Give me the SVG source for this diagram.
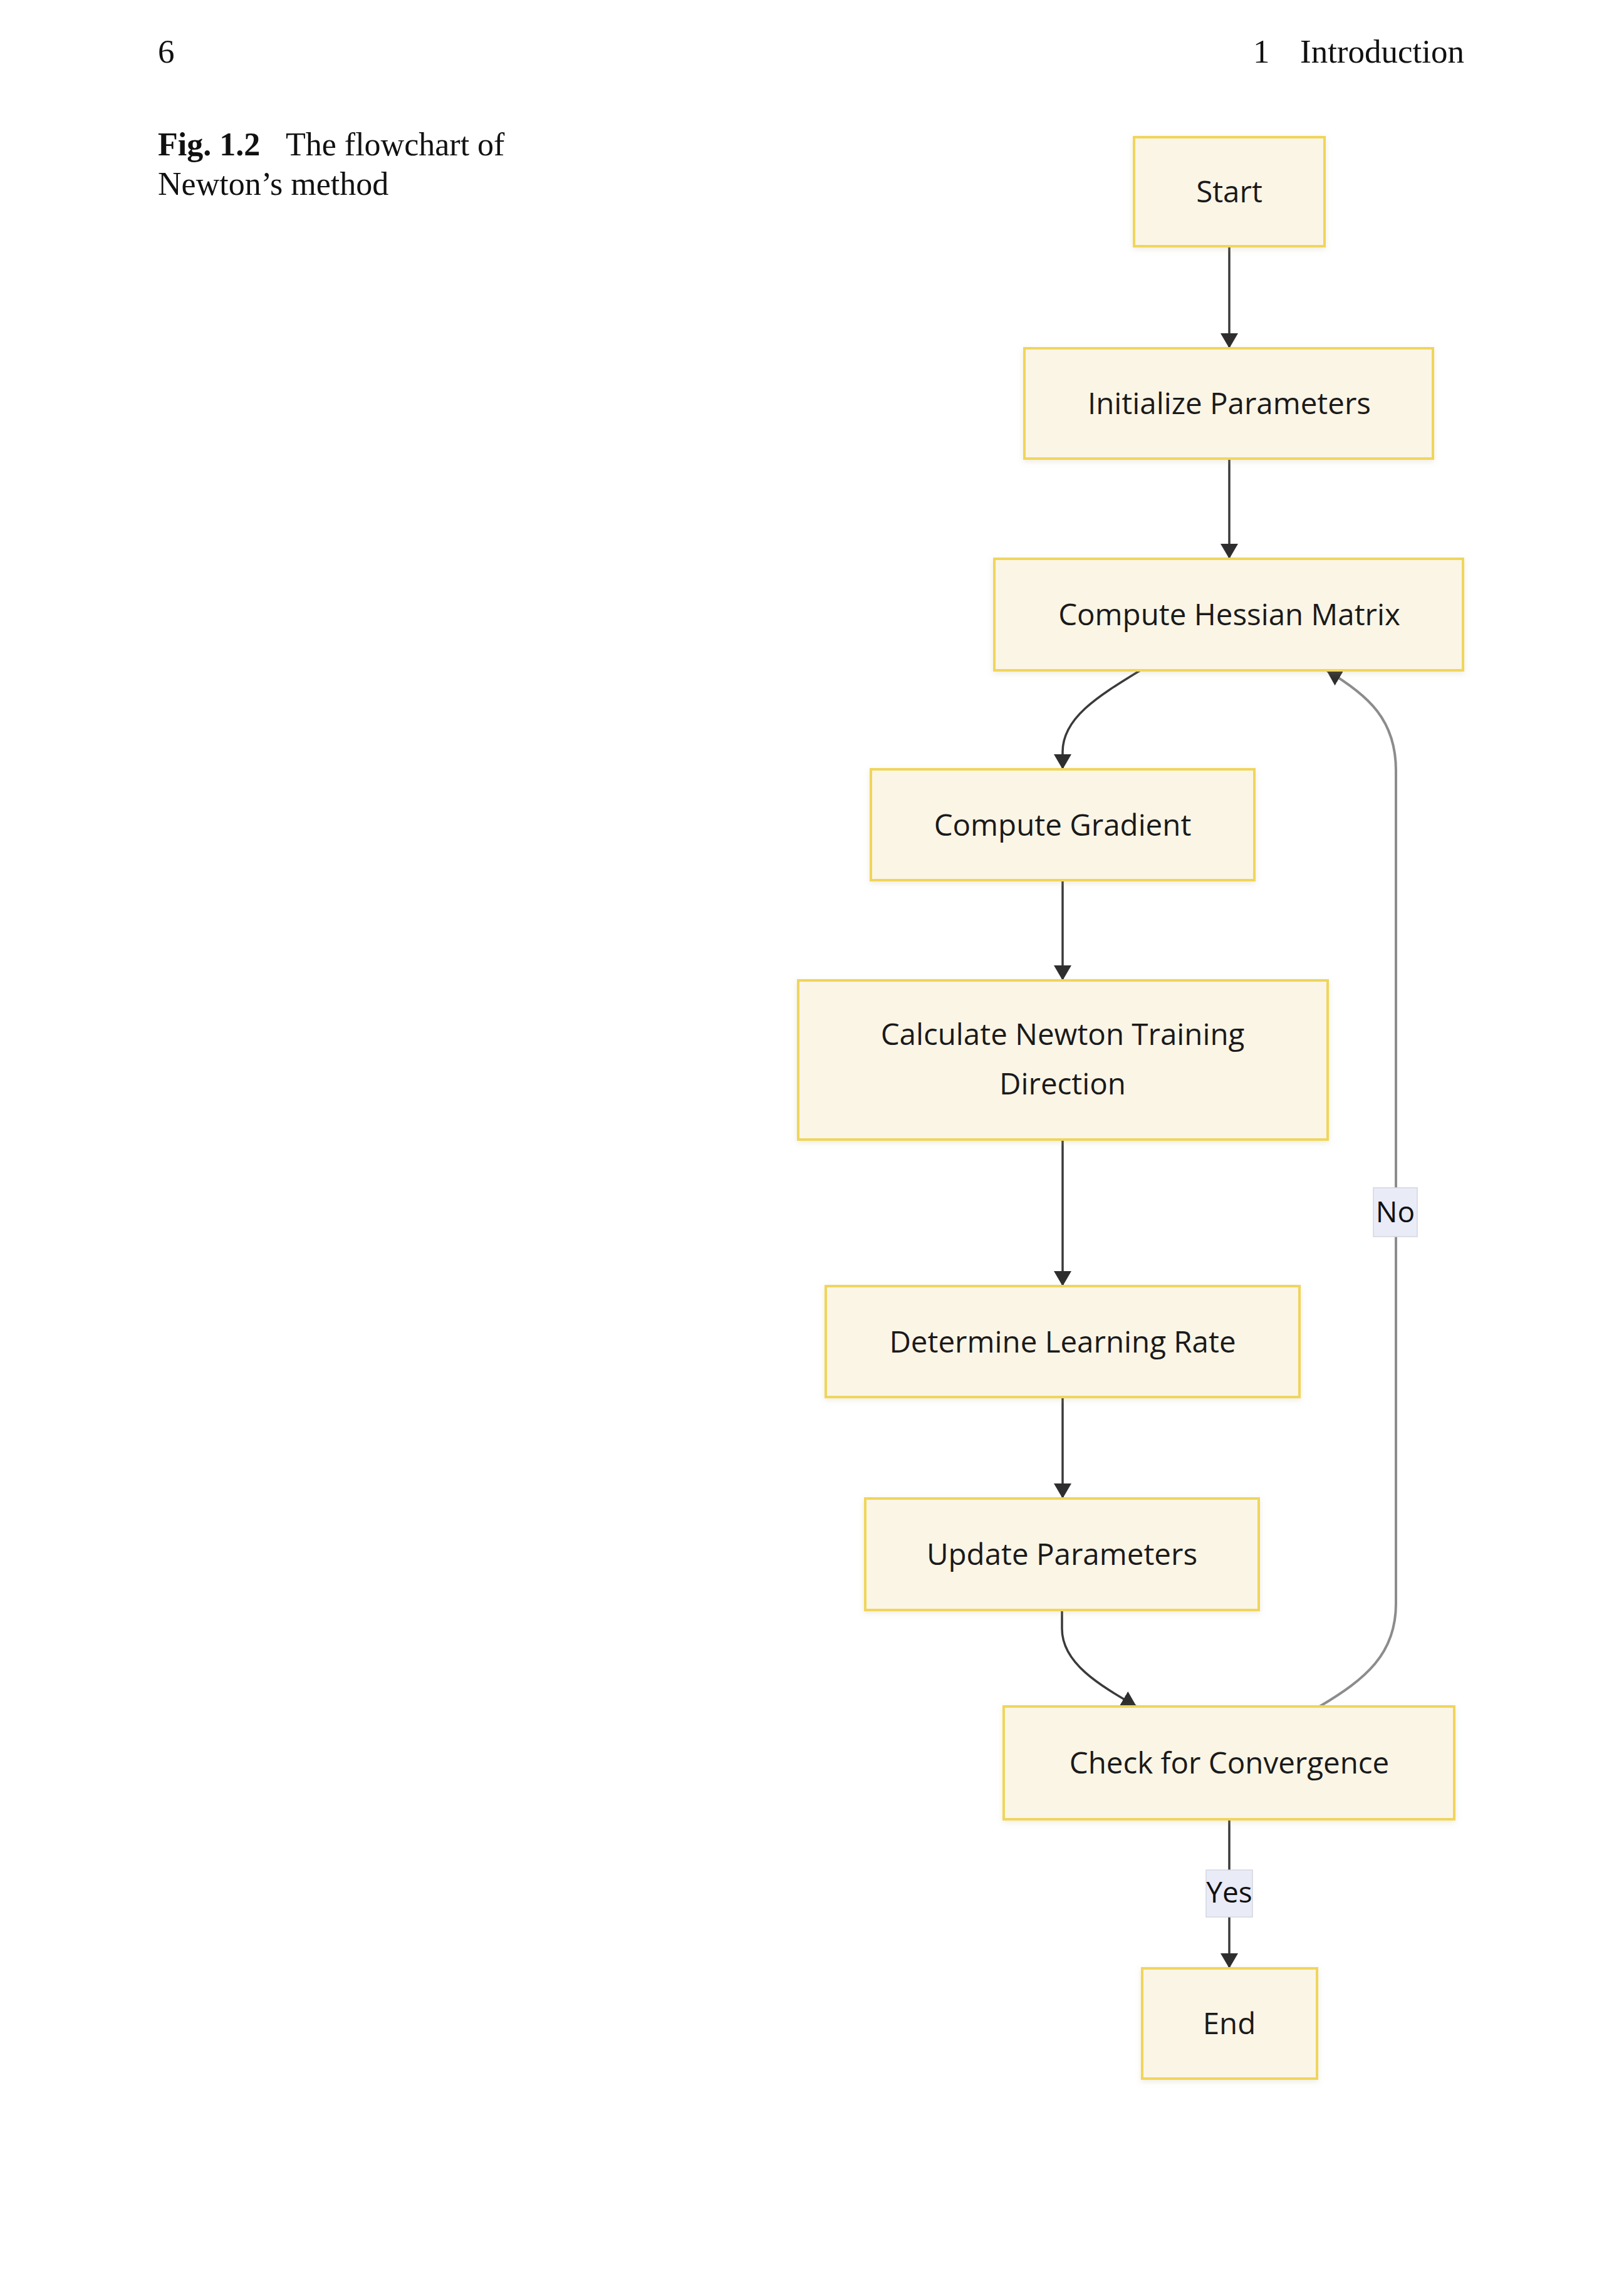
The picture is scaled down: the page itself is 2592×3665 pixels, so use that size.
<svg xmlns="http://www.w3.org/2000/svg" width="2592" height="3665" viewBox="0 0 2592 3665">
<style>
  .hdr { font-family: "Liberation Serif", "Times New Roman", serif; font-size: 53px; fill: #111; }
  .cap { font-family: "Liberation Serif", "Times New Roman", serif; font-size: 52px; fill: #111; }
  .node rect { fill: #fbf5e6; stroke: #f0d55a; stroke-width: 4; }
  .node text { font-family: "Open Sans", "Noto Sans", sans-serif; font-size: 47.5px; fill: #1a1a1a; text-anchor: middle; }
  .edge { fill: none; stroke: #3a3a3a; stroke-width: 3.5; }
  .edge.back { stroke: #8c8c8c; stroke-width: 4; }
  .lbl rect { fill: #e9ebf7; stroke: #d4d6e0; stroke-width: 1.5; }
  .lbl text { font-family: "Open Sans", "Noto Sans", sans-serif; font-size: 46px; fill: #111; text-anchor: middle; }
</style>
<defs>
  <marker id="arr" viewBox="0 0 24 28" refX="24" refY="14" markerWidth="24" markerHeight="28" markerUnits="userSpaceOnUse" orient="auto">
    <path d="M0,0 L24,14 L0,28 z" fill="#2e2e2e"/>
  </marker>
  <filter id="sh" x="-10%" y="-10%" width="120%" height="130%">
    <feDropShadow dx="0" dy="3" stdDeviation="5" flood-color="#b0a070" flood-opacity="0.22"/>
  </filter>
</defs>
<rect x="0" y="0" width="2592" height="3665" fill="#ffffff"/>

<g id="header">
  <text class="hdr" x="252" y="100">6</text>
  <text class="hdr" x="2000" y="100">1</text>
  <text class="hdr" x="2337" y="100" text-anchor="end">Introduction</text>
</g>
<g id="caption">
  <text class="cap" x="252" y="248"><tspan font-weight="bold">Fig. 1.2</tspan><tspan x="456">The flowchart of</tspan></text>
  <text class="cap" x="252" y="311">Newton’s method</text>
</g>

<g id="connectors">
  <path class="edge" d="M1962,393 L1962,556" marker-end="url(#arr)"/>
  <path class="edge" d="M1962,732 L1962,892" marker-end="url(#arr)"/>
  <path class="edge" d="M1820,1070 C1755,1110 1696,1145 1696,1200 L1696,1228" marker-end="url(#arr)"/>
  <path class="edge" d="M1696,1405 L1696,1565" marker-end="url(#arr)"/>
  <path class="edge" d="M1696,1819 L1696,2053" marker-end="url(#arr)"/>
  <path class="edge" d="M1696,2230 L1696,2392" marker-end="url(#arr)"/>
  <path class="edge" d="M1695,2570 L1695,2600 C1695,2655 1755,2690 1814,2724" marker-end="url(#arr)"/>
  <path class="edge back" d="M2106,2724 C2180,2680 2228,2640 2228,2560 L2228,1230 C2228,1150 2185,1110 2117,1070" marker-end="url(#arr)"/>
  <path class="edge" d="M1962,2904 L1962,3142" marker-end="url(#arr)"/>
  <g id="label-no" class="lbl">
    <rect x="2192" y="1896" width="70" height="78"/>
    <text x="2227" y="1951">No</text>
  </g>
  <g id="label-yes" class="lbl">
    <rect x="1925" y="2985" width="74" height="75"/>
    <text x="1962" y="3037">Yes</text>
  </g>
</g>

<g id="start" class="node"><rect x="1810" y="219" width="304" height="174" filter="url(#sh)"/><text x="1962" y="323">Start</text></g>
<g id="init" class="node"><rect x="1635" y="556" width="652" height="176" filter="url(#sh)"/><text x="1962" y="661">Initialize Parameters</text></g>
<g id="hessian" class="node"><rect x="1587" y="892" width="748" height="178" filter="url(#sh)"/><text x="1962" y="998">Compute Hessian Matrix</text></g>
<g id="gradient" class="node"><rect x="1390" y="1228" width="612" height="177" filter="url(#sh)"/><text x="1696" y="1334">Compute Gradient</text></g>
<g id="newton" class="node"><rect x="1274" y="1565" width="845" height="254" filter="url(#sh)"/><text x="1696" y="1668">Calculate Newton Training</text><text x="1696" y="1747">Direction</text></g>
<g id="lr" class="node"><rect x="1318" y="2053" width="756" height="177" filter="url(#sh)"/><text x="1696" y="2159">Determine Learning Rate</text></g>
<g id="update" class="node"><rect x="1381" y="2392" width="628" height="178" filter="url(#sh)"/><text x="1695" y="2498">Update Parameters</text></g>
<g id="check" class="node"><rect x="1602" y="2724" width="719" height="180" filter="url(#sh)"/><text x="1962" y="2831">Check for Convergence</text></g>
<g id="end" class="node"><rect x="1823" y="3142" width="279" height="176" filter="url(#sh)"/><text x="1962" y="3247">End</text></g>
</svg>
